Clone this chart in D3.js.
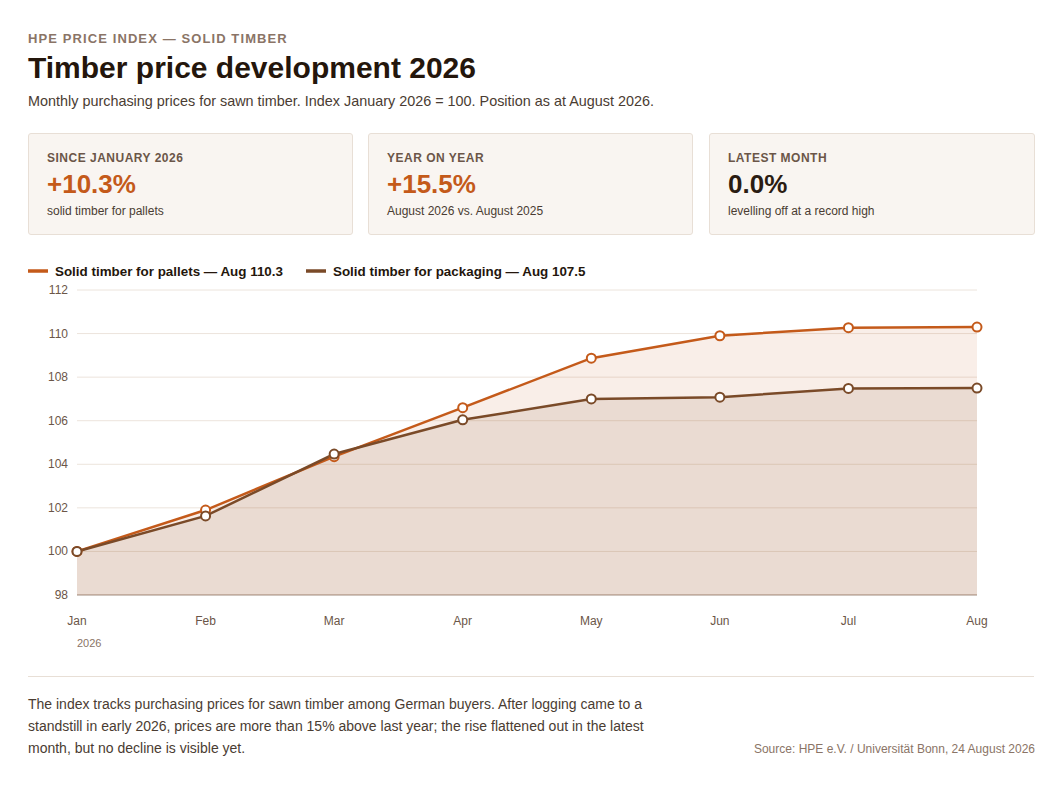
<!DOCTYPE html>
<html><head><meta charset="utf-8">
<script src="https://cdn.jsdelivr.net/npm/d3@7"></script>
<style>
body{margin:0;background:#fff;font-family:"Liberation Sans",Arial,sans-serif;color:#2a1c12;}
#wrap{position:relative;width:1058px;height:787px;}
.kick{position:absolute;left:28px;top:31px;font-size:13px;font-weight:bold;letter-spacing:1.1px;color:#8a7466;}
h1{position:absolute;left:28px;top:51px;margin:0;font-size:30px;font-weight:bold;color:#24160c;}
.sub{position:absolute;left:28px;top:93px;font-size:14.4px;color:#4a3c32;}
.card{position:absolute;top:133px;width:325px;height:102px;background:#f9f5f1;border:1px solid #e8dfd6;border-radius:3px;box-sizing:border-box;padding:17px 18px;}
.card .l{font-size:12px;font-weight:bold;letter-spacing:.5px;color:#6b5648;}
.card .v{font-size:26px;font-weight:bold;margin-top:4px;}
.card .d{font-size:12px;color:#4a3c32;margin-top:4px;}
.note{position:absolute;left:28px;top:693px;width:660px;font-size:14px;line-height:22px;color:#4a3c32;}
.src{position:absolute;right:23px;top:742px;font-size:12px;color:#8a7466;}
.rule{position:absolute;left:28px;top:676px;width:1006px;border-top:1px solid #e8dfd6;}
</style></head><body><div id="wrap">
<div class="kick">HPE PRICE INDEX — SOLID TIMBER</div>
<h1>Timber price development 2026</h1>
<div class="sub">Monthly purchasing prices for sawn timber. Index January 2026 = 100. Position as at August 2026.</div>
<div class="card" style="left:28px"><div class="l">SINCE JANUARY 2026</div><div class="v" style="color:#c45a1a">+10.3%</div><div class="d">solid timber for pallets</div></div>
<div class="card" style="left:368px"><div class="l">YEAR ON YEAR</div><div class="v" style="color:#c45a1a">+15.5%</div><div class="d">August 2026 vs. August 2025</div></div>
<div class="card" style="left:709px;width:326px"><div class="l">LATEST MONTH</div><div class="v">0.0%</div><div class="d">levelling off at a record high</div></div>
<svg id="chart" width="1058" height="787" style="position:absolute;left:0;top:0;pointer-events:none"></svg>
<div class="rule"></div>
<div class="note">The index tracks purchasing prices for sawn timber among German buyers. After logging came to a standstill in early 2026, prices are more than 15% above last year; the rise flattened out in the latest month, but no decline is visible yet.</div>
<div class="src">Source: HPE e.V. / Universität Bonn, 24 August 2026</div>
</div>
<script>
var months = ["Jan","Feb","Mar","Apr","May","Jun","Jul","Aug"];
var pallets = [100, 101.9, 104.35, 106.6, 108.87, 109.9, 110.27, 110.3];
var packaging = [100, 101.63, 104.47, 106.04, 107.0, 107.08, 107.48, 107.5];
var yTicks = [98, 100, 102, 104, 106, 108, 110, 112];
var seriesNames = ["Solid timber for pallets — Aug 110.3", "Solid timber for packaging — Aug 107.5"];
var colors = ["#c45a1a", "#7a4a28"];

var svg = d3.select("#chart");
var x = d3.scalePoint().domain(months).range([77, 977]);
var y = d3.scaleLinear().domain([98, 112]).range([595, 290]);

// grid
svg.append("g").selectAll("line").data(yTicks).enter().append("line")
  .attr("x1", 77).attr("x2", 977).attr("y1", d => y(d)).attr("y2", d => y(d))
  .attr("stroke", d => d == 98 ? "#bfb2a8" : "#ece4dc").attr("stroke-width", d => d == 98 ? 1.5 : 1);
svg.append("g").selectAll("text").data(yTicks).enter().append("text")
  .attr("x", 68).attr("y", d => y(d) + 4).attr("text-anchor", "end")
  .attr("font-size", 12).attr("fill", "#6b5648").text(d => d);
svg.append("g").selectAll("text").data(months).enter().append("text")
  .attr("x", d => x(d)).attr("y", 625).attr("text-anchor", "middle")
  .attr("font-size", 12).attr("fill", "#6b5648").text(d => d);
svg.append("text").attr("x", 77).attr("y", 647).attr("text-anchor", "start")
  .attr("font-size", 11).attr("fill", "#8a7466").text("2026");

var area = d3.area().x((d, i) => x(months[i])).y0(y(98)).y1(d => y(d));
svg.append("path").attr("d", area(pallets)).attr("fill", "#c45a1a").attr("opacity", 0.1);
svg.append("path").attr("d", area(packaging)).attr("fill", "#7a4a28").attr("opacity", 0.11);

var line = d3.line().x((d, i) => x(months[i])).y(d => y(d));
[pallets, packaging].forEach(function (s, k) {
  svg.append("path").attr("d", line(s)).attr("fill", "none").attr("stroke", colors[k]).attr("stroke-width", 2.5);
});
[pallets, packaging].forEach(function (s, k) {
  svg.append("g").selectAll("circle").data(s).enter().append("circle")
    .attr("cx", (d, i) => x(months[i])).attr("cy", d => y(d)).attr("r", 4.5)
    .attr("fill", "#fff").attr("stroke", colors[k]).attr("stroke-width", 2);
});

// legend
var lx = [28, 306];
seriesNames.forEach(function (n, k) {
  svg.append("line").attr("x1", lx[k]).attr("x2", lx[k] + 20).attr("y1", 271).attr("y2", 271)
    .attr("stroke", colors[k]).attr("stroke-width", 3.5);
  svg.append("text").attr("x", lx[k] + 27).attr("y", 276).attr("font-size", 13.4)
    .attr("font-weight", "bold").attr("fill", "#24160c").text(n);
});
</script>
</body></html>
